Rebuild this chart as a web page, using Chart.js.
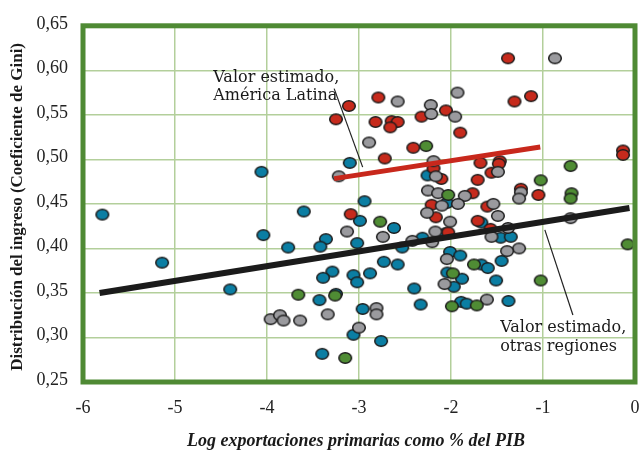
<!DOCTYPE html>
<html><head><meta charset="utf-8">
<script src="https://cdn.jsdelivr.net/npm/chart.js@4"></script>
<style>html,body{margin:0;padding:0;background:#fff}canvas{display:block}</style>
</head><body>
<canvas id="c" width="643" height="460"></canvas>
<script>
// Series: [log primary exports % GDP, Gini]
const blueX = [-4.06,-5.79,-5.14,-4.40,-4.04,-3.77,-3.60,-3.10,-2.255,-2.94,-2.045,-2.99,-2.62,-3.36,-3.42,-3.02,-2.53,-2.31,-2.06,-1.67,-1.46,-1.35,-2.01,-1.90,-1.45,-1.67,-1.60,-2.73,-2.58,-3.29,-3.39,-3.06,-3.02,-2.88,-2.04,-1.88,-1.97,-1.51,-2.40,-3.43,-3.25,-2.96,-2.33,-1.89,-1.83,-1.375,-3.06,-2.76,-3.40];
const blueY = [0.486,0.438,0.384,0.354,0.415,0.401,0.4415,0.496,0.482,0.453,0.451,0.431,0.423,0.4105,0.402,0.406,0.401,0.412,0.417,0.429,0.412,0.413,0.396,0.392,0.386,0.382,0.378,0.385,0.382,0.374,0.367,0.370,0.362,0.372,0.373,0.366,0.357,0.364,0.355,0.342,0.349,0.332,0.337,0.340,0.338,0.341,0.303,0.296,0.2816];
const redX = [-1.38,-2.79,-3.11,-3.25,-2.82,-2.645,-2.58,-2.66,-2.32,-2.055,-1.90,-1.31,-1.13,-2.41,-2.72,-0.13,-0.13,-1.68,-1.47,-1.48,-1.56,-1.71,-1.24,-1.05,-1.765,-2.19,-2.105,-2.21,-2.165,-1.605,-1.71,-1.57,-2.03,-3.09];
const redY = [0.6135,0.5695,0.560,0.545,0.542,0.543,0.542,0.536,0.548,0.555,0.530,0.565,0.571,0.513,0.501,0.510,0.505,0.496,0.498,0.495,0.485,0.477,0.467,0.460,0.462,0.490,0.478,0.449,0.435,0.447,0.431,0.422,0.418,0.4385];
const grayX = [-0.87,-1.93,-2.58,-2.22,-2.215,-1.955,-2.89,-3.22,-2.19,-2.165,-1.49,-2.25,-2.14,-1.85,-1.24,-1.26,-2.10,-1.925,-2.26,-1.54,-2.01,-1.49,-1.38,-2.17,-1.56,-0.70,-3.13,-2.74,-2.42,-2.205,-1.26,-1.39,-2.045,-2.07,-1.61,-3.34,-2.81,-2.81,-3.00,-3.96,-3.86,-3.82,-3.64];
const grayY = [0.6135,0.575,0.565,0.561,0.551,0.548,0.519,0.481,0.498,0.481,0.486,0.465,0.462,0.459,0.463,0.456,0.448,0.450,0.440,0.450,0.430,0.4365,0.423,0.419,0.413,0.434,0.419,0.413,0.4085,0.407,0.400,0.397,0.388,0.360,0.3426,0.326,0.333,0.326,0.311,0.3206,0.325,0.319,0.319];
const greenX = [-2.27,-0.70,-1.025,-0.69,-0.70,-2.03,-2.77,-0.08,-1.75,-1.98,-1.025,-3.66,-3.26,-1.99,-1.72,-3.15];
const greenY = [0.515,0.4925,0.4765,0.462,0.456,0.460,0.430,0.4046,0.382,0.372,0.364,0.348,0.347,0.335,0.336,0.277];
// Fitted lines (estimated values)
const latamLineX = [-3.27,-1.03];
const latamLineY = [0.4784,0.514];
const otherLineX = [-5.82,-0.06];
const otherLineY = [0.350,0.4454];
// Leader lines for annotations
const latamLeaderX = [-3.27,-2.96];
const latamLeaderY = [0.5794,0.4913];
const otherLeaderX = [-0.98,-0.675];
const otherLeaderY = [0.4208,0.3253];
// Ticks & labels
const xTicks = [-6,-5,-4,-3,-2,-1,0];
const yTicks = [0.25,0.30,0.35,0.40,0.45,0.50,0.55,0.60,0.65];
const yTitle = 'Distribución del ingreso (Coeficiente de Gini)';
const xTitle = 'Log exportaciones primarias como % del PIB';
const latamText = ['Valor estimado,','América Latina'];
const latamTextPos = [-4.584,0.5919,0.571];
const otherText = ['Valor estimado,','otras regiones'];
const otherTextPos = [-1.465,0.3113,0.290];

const pts = (xs, ys) => xs.map((x, i) => ({x, y: ys[i]}));

function dot(fill){
  const cv = document.createElement('canvas');
  cv.width = 16; cv.height = 14;
  const g = cv.getContext('2d');
  g.beginPath();
  g.ellipse(8, 7, 6.3, 5.3, 0, 0, Math.PI*2);
  g.fillStyle = fill; g.fill();
  g.lineWidth = 1.5; g.strokeStyle = '#1c1c1c'; g.stroke();
  return cv;
}

const GREEN_BORDER = '#4f8a34';
const GRID = '#b3cf9b';

const deco = {
  id: 'deco',
  afterDatasetsDraw(chart){
    const {ctx, chartArea: a, scales: {x, y}} = chart;
    ctx.save();
    ctx.strokeStyle = GREEN_BORDER;
    ctx.lineWidth = 5;
    ctx.strokeRect(a.left, a.top, a.right - a.left, a.bottom - a.top);
    ctx.fillStyle = '#1a1a1a';
    ctx.font = '16px "DejaVu Serif"';
    ctx.textBaseline = 'middle';
    ctx.textAlign = 'left';
    const lx = x.getPixelForValue(latamTextPos[0]);
    ctx.fillText(latamText[0], lx, y.getPixelForValue(latamTextPos[1]));
    ctx.fillText(latamText[1], lx, y.getPixelForValue(latamTextPos[2]));
    const ox = x.getPixelForValue(otherTextPos[0]);
    ctx.fillText(otherText[0], ox, y.getPixelForValue(otherTextPos[1]));
    ctx.fillText(otherText[1], ox, y.getPixelForValue(otherTextPos[2]));
    // axis titles
    ctx.font = 'bold 17px "Liberation Serif"';
    ctx.textAlign = 'center';
    ctx.save();
    ctx.translate(18, (a.top + a.bottom)/2 + 3);
    ctx.rotate(-Math.PI/2);
    ctx.fillText(yTitle, 0, 0);
    ctx.restore();
    ctx.font = 'italic bold 18px "Liberation Serif"';
    ctx.fillText(xTitle, 356, 441);
    ctx.restore();
  }
};

const pointDs = (label, xs, ys, color, order) => ({
  label, data: pts(xs, ys), pointStyle: dot(color), pointRadius: 7, order, showLine: false
});
const lineDs = (label, xs, ys, color, w, order) => ({
  label, data: pts(xs, ys), showLine: true, borderColor: color, borderWidth: w,
  pointRadius: 0, order, borderCapStyle: 'butt', clip: false
});

new Chart(document.getElementById('c'), {
  type: 'scatter',
  data: { datasets: [
    lineDs('leader1', latamLeaderX, latamLeaderY, '#222', 1.2, 0),
    lineDs('leader2', otherLeaderX, otherLeaderY, '#222', 1.2, 0),
    lineDs('otras regiones', otherLineX, otherLineY, '#1b1b1b', 6, 1),
    lineDs('América Latina', latamLineX, latamLineY, '#c8281c', 5, 1),
    pointDs('green', greenX, greenY, '#4f8c34', 2),
    pointDs('gray', grayX, grayY, '#9a9a9e', 3),
    pointDs('red', redX, redY, '#c62a1c', 4),
    pointDs('blue', blueX, blueY, '#0b7ea3', 5)
  ]},
  plugins: [deco],
  options: {
    responsive: false, animation: false,
    layout: { padding: { top: 19, right: 1, left: 0, bottom: 0 } },
    plugins: { legend: { display: false }, tooltip: { enabled: false } },
    scales: {
      x: {
        type: 'linear', min: -6, max: 0,
        afterBuildTicks: s => { s.ticks = xTicks.map(v => ({value: v})); },
        afterFit: s => { s.height = 78; s.paddingRight = 0; s.paddingLeft = 0; },
        ticks: { color: '#222', font: { family: 'Liberation Serif', size: 18 }, padding: 15,
                 callback: v => String(v), maxRotation: 0 },
        grid: { color: GRID, lineWidth: 1.5, drawTicks: false },
        border: { display: false }
      },
      y: {
        type: 'linear', min: 0.25, max: 0.65,
        afterBuildTicks: s => { s.ticks = yTicks.map(v => ({value: v})); },
        afterFit: s => { s.width = 83; },
        ticks: { color: '#222', font: { family: 'Liberation Serif', size: 18 }, padding: 15,
                 callback: v => Number(v).toFixed(2).replace('.', ','), labelOffset: -2 },
        grid: { color: GRID, lineWidth: 1.5, drawTicks: false },
        border: { display: false }
      }
    }
  }
});
</script>
</body></html>
